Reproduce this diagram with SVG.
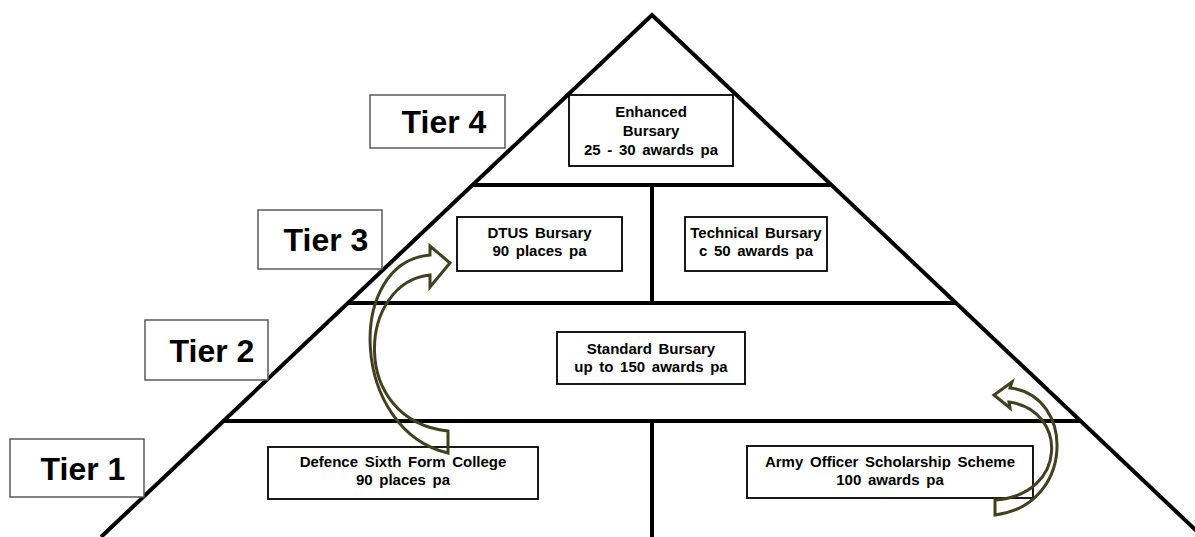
<svg xmlns="http://www.w3.org/2000/svg" width="1195" height="537" viewBox="0 0 1195 537">
<style>
.pyr{stroke:#000;stroke-width:4;fill:none;stroke-linecap:butt}
.tier{fill:#fff;stroke:#595959;stroke-width:1.5}
.tiert{font-family:"Liberation Sans",Arial,sans-serif;font-weight:bold;font-size:32px;fill:#000;text-anchor:middle}
.box{fill:#fff;stroke:#000;stroke-width:1.8}
.bt{font-family:"Liberation Sans",Arial,sans-serif;font-weight:bold;font-size:15px;fill:#000;text-anchor:middle;word-spacing:2.5px}
.arr{fill:none;stroke:#40421f;stroke-width:3;stroke-linejoin:miter}
</style>
<rect width="1195" height="537" fill="#fff"/>
<g id="pyramid">
<polyline class="pyr" points="101,537 652,15 1203,537"/>
<line class="pyr" x1="472" y1="185" x2="832" y2="185"/>
<line class="pyr" x1="347" y1="303" x2="957" y2="303"/>
<line class="pyr" x1="223" y1="421" x2="1081" y2="421"/>
<line class="pyr" x1="652" y1="185" x2="652" y2="303"/>
<line class="pyr" x1="652" y1="421" x2="652" y2="537"/>
</g>
<g id="tier4"><rect class="tier" x="370" y="95" width="135" height="53"/><text class="tiert" x="444" y="133">Tier 4</text></g>
<g id="tier3"><rect class="tier" x="258" y="210" width="124" height="59"/><text class="tiert" x="326" y="251">Tier 3</text></g>
<g id="tier2"><rect class="tier" x="145" y="320" width="123" height="60"/><text class="tiert" x="212" y="362">Tier 2</text></g>
<g id="tier1"><rect class="tier" x="10" y="439" width="134" height="58"/><text class="tiert" x="83" y="480">Tier 1</text></g>
<g id="enhanced"><rect class="box" x="569" y="95" width="164" height="71"/>
<text class="bt" x="651" y="117">Enhanced</text><text class="bt" x="651" y="136">Bursary</text><text class="bt" x="651" y="155">25 - 30 awards pa</text></g>
<g id="dtus"><rect class="box" x="457" y="217" width="165" height="54"/>
<text class="bt" x="539.5" y="238">DTUS Bursary</text><text class="bt" x="539.5" y="256">90 places pa</text></g>
<g id="technical"><rect class="box" x="685" y="217" width="142" height="54"/>
<text class="bt" x="756" y="238">Technical Bursary</text><text class="bt" x="756" y="256">c 50 awards pa</text></g>
<g id="standard"><rect class="box" x="557" y="332" width="188" height="52"/>
<text class="bt" x="651" y="354">Standard Bursary</text><text class="bt" x="651" y="372">up to 150 awards pa</text></g>
<g id="defence"><rect class="box" x="268" y="447" width="270" height="52"/>
<text class="bt" x="403" y="467">Defence Sixth Form College</text><text class="bt" x="403" y="485">90 places pa</text></g>
<g id="army"><rect class="box" x="747" y="446" width="286" height="52"/>
<text class="bt" x="890" y="467">Army Officer Scholarship Scheme</text><text class="bt" x="890" y="485">100 awards pa</text></g>
<g id="connectors">
<path class="arr" d="M448,431 L448,453 C350,430 345,262 430,255 L430,246 L450,263 L430,287 L430,275 C358,282 348,420 448,431 Z"/>
<path class="arr" d="M995,500 L995,515 C1075,505 1075,395 1010,388 L1012,382 L994,395 L1010,408 L1009,402 C1068,410 1068,495 995,500 Z"/>
</g>
</svg>
